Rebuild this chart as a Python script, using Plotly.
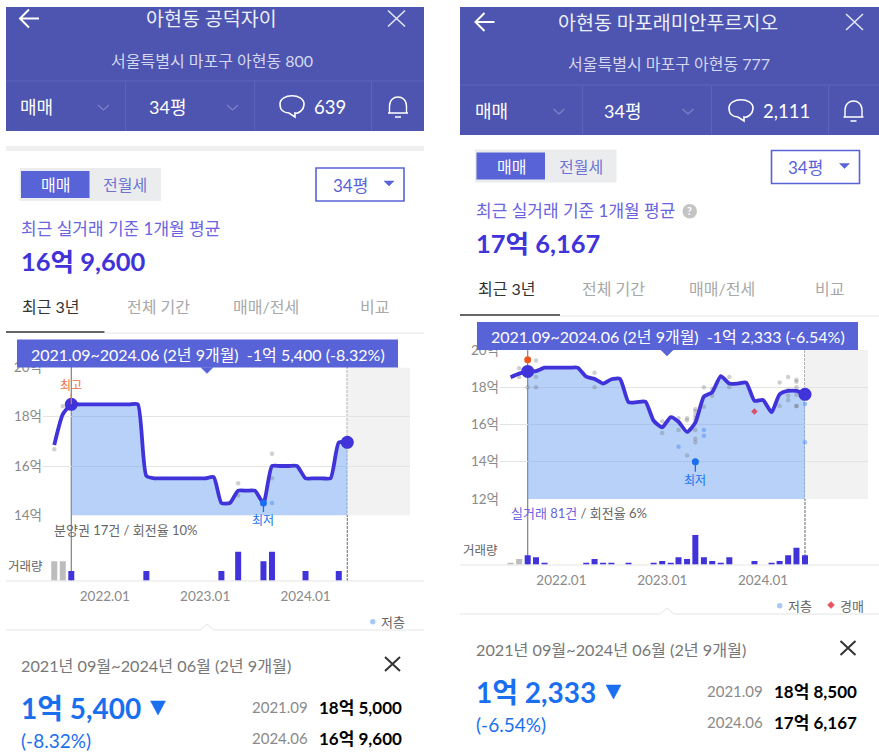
#!/usr/bin/env python3
"""Two apartment price screens side by side: chart panels plus the app chrome around them."""
import pandas as pd
import plotly.graph_objects as go

# ---------- left screen data (억) ----------
MONTHS = list(pd.date_range("2021-07-01", "2024-06-01", freq="MS"))
PRICE_A = [16.85, 18.1, 18.5, 18.5, 18.5, 18.5, 18.5, 18.5, 18.5, 18.5, 18.5, 15.6, 15.5, 15.5,
           15.5, 15.5, 15.5, 15.5, 15.5, 15.55, 14.5, 14.5, 15.0, 15.0, 15.0, 14.5, 16.0, 16.0,
           16.0, 16.0, 15.5, 15.5, 15.5, 15.5, 16.95, 16.96]
VOL_MONTHS_A = ["2021-07-01", "2021-08-01", "2021-09-01", "2022-06-01", "2023-03-01",
                "2023-05-01", "2023-08-01", "2023-09-01", "2024-01-01", "2024-05-01"]
VOL_A = [2, 2, 1, 1, 1, 3, 2, 3, 1, 1]
DOT_MONTHS_A = ["2021-07-01", "2021-08-01", "2023-05-01", "2023-05-01", "2023-09-01", "2023-09-01"]
DOT_VALUES_A = [16.68, 18.42, 15.3, 14.8, 16.5, 15.5]
LOW_MONTHS_A = ["2023-09-01"]
LOW_VALUES_A = [14.5]

# ---------- right screen data (억) ----------
PRICE_B = [18.54, 18.73, 18.85, 18.87, 19.05, 19.05, 19.05, 19.05, 19.05, 18.57, 18.45, 18.2,
           18.43, 18.45, 17.2, 17.2, 17.23, 16.2, 15.85, 16.4, 16.15, 15.6, 16.1, 17.5, 17.73,
           18.6, 18.2, 18.2, 18.25, 17.27, 17.32, 16.66, 17.62, 17.8, 17.8, 17.62]
VOL_MONTHS_B = ["2021-07-01", "2021-08-01", "2021-09-01", "2021-10-01", "2021-11-01", "2022-04-01",
                "2022-05-01", "2022-06-01", "2022-07-01", "2022-09-01", "2022-12-01", "2023-01-01",
                "2023-02-01", "2023-03-01", "2023-04-01", "2023-05-01", "2023-06-01", "2023-07-01",
                "2023-08-01", "2023-09-01", "2023-12-01", "2024-02-01", "2024-03-01", "2024-04-01",
                "2024-05-01", "2024-06-01"]
VOL_B = [1, 3, 5, 4, 1, 1, 3, 1, 1, 1, 1, 2, 1, 4, 3, 16, 4, 2, 1, 4, 2, 1, 2, 5, 9, 5]
DOT_MONTHS_B = ["2021-08-01", "2021-08-01", "2021-10-01", "2021-10-01", "2021-10-01", "2021-09-01",
                "2022-05-01", "2022-05-01", "2023-01-01", "2023-01-01", "2023-03-01", "2023-03-01",
                "2023-04-01", "2023-04-01", "2023-04-01", "2023-05-01", "2023-05-01", "2023-05-01",
                "2023-05-01", "2023-05-01", "2023-05-01", "2023-05-01", "2023-05-01", "2023-06-01",
                "2023-06-01", "2023-07-01", "2023-07-01", "2023-09-01", "2023-09-01", "2024-03-01",
                "2024-03-01", "2024-04-01", "2024-04-01", "2024-04-01", "2024-04-01", "2024-05-01",
                "2024-05-01", "2024-05-01", "2024-05-01", "2024-05-01", "2024-05-01"]
DOT_VALUES_B = [19.02, 18.55, 19.43, 18.55, 18.0, 18.0, 18.78, 18.0, 16.18, 15.54, 16.34, 15.7,
                16.34, 16.23, 14.34, 16.82, 16.7, 16.5, 16.35, 16.2, 15.7, 15.23, 15.05, 18.0,
                16.95, 17.9, 17.55, 18.55, 18.0, 18.25, 17.0, 18.55, 17.85, 17.54, 17.3, 18.4,
                18.3, 18.0, 17.6, 17.0, 17.0]
LOW_MONTHS_B = ["2023-03-01", "2023-06-01", "2023-06-01", "2024-06-01", "2024-06-01"]
LOW_VALUES_B = [14.8, 15.7, 15.4, 17.1, 15.05]
AUCTION_MONTHS = ["2023-12-01"]
AUCTION_VALUES = [16.7]

START, END = "2021-09-01", "2024-06-01"
Y_TICKS_A = [14, 16, 18, 20]
Y_LABELS_A = ["14억", "16억", "18억", "20억"]
Y_TICKS_B = [12, 14, 16, 18, 20]
Y_LABELS_B = ["12억", "14억", "16억", "18억", "20억"]
X_TICKS = ["2022-01-01", "2023-01-01", "2024-01-01"]
X_LABELS = ["2022.01", "2023.01", "2024.01"]

FONT = "Lato, 'Noto Sans CJK KR', sans-serif"
W, H = 879, 754
HEADER = "#4d55b0"
ACCENT = "#5863d8"
LINE = "#3f33d9"
FILL = "rgba(111,163,241,0.5)"
BLUE = "#1a6ff0"
DOT = "rgba(110,110,110,0.32)"
LOW = "rgba(90,150,240,0.55)"


def date_range_for(left_px, right_px, start_px, end_px):
    # x range so that START sits at start_px and END at end_px
    per_day = (end_px - start_px) / (pd.Timestamp(END) - pd.Timestamp(START)).days
    t0 = pd.Timestamp(START)
    return [t0 + pd.Timedelta(days=(left_px - start_px) / per_day),
            t0 + pd.Timedelta(days=(right_px - start_px) / per_day)], per_day


def ydom(top, bottom):
    return [1 - bottom / H, 1 - top / H]


fig = go.Figure()
range_a, per_day_a = date_range_for(43, 410, 71.3, 347.3)
range_b, per_day_b = date_range_for(500, 868, 527.7, 805)

axis_x = dict(type="date", showgrid=False, zeroline=False, showline=False, fixedrange=True, automargin=False)
axis_main_y = dict(showgrid=True, gridcolor="#e4e4e4", gridwidth=1, zeroline=False, showline=False, automargin=False,
                   tickfont=dict(family=FONT, size=13.5, color="#8a8a8a"), ticks="", tickmode="array")
axis_vol_x = dict(axis_x, showticklabels=True, tickmode="array", tickvals=X_TICKS, ticktext=X_LABELS,
                  tickfont=dict(family=FONT, size=13.5, color="#8a8a8a"), ticks="", ticklabelstandoff=6)
axis_vol_y = dict(visible=False, fixedrange=True, automargin=False)

fig.update_layout(
    width=W, height=H, margin=dict(l=0, r=0, t=0, b=0), showlegend=False,
    paper_bgcolor="white", plot_bgcolor="rgba(0,0,0,0)", font=dict(family=FONT),
    xaxis=dict(axis_x, domain=[43 / W, 410 / W], range=range_a, showticklabels=False, anchor="y"),
    yaxis=dict(axis_main_y, domain=ydom(367.4, 515.3), range=[14, 20], tickvals=Y_TICKS_A, ticktext=Y_LABELS_A, anchor="x"),
    xaxis2=dict(axis_vol_x, domain=[43 / W, 410 / W], range=range_a, anchor="y2"),
    yaxis2=dict(axis_vol_y, domain=ydom(551.4, 580.7), range=[0, 3], anchor="x2"),
    xaxis3=dict(axis_x, domain=[500 / W, 868 / W], range=range_b, showticklabels=False, anchor="y3"),
    yaxis3=dict(axis_main_y, domain=ydom(350, 499), range=[12, 20], tickvals=Y_TICKS_B, ticktext=Y_LABELS_B, anchor="x3"),
    xaxis4=dict(axis_vol_x, domain=[500 / W, 868 / W], range=range_b, anchor="y4"),
    yaxis4=dict(axis_vol_y, domain=ydom(534.7, 564.7), range=[0, 16], anchor="x4"),
    # pixel overlay for the app chrome
    xaxis5=dict(visible=False, domain=[0, 1], range=[0, W], fixedrange=True, anchor="y5", automargin=False),
    yaxis5=dict(visible=False, domain=[0, 1], range=[H, 0], fixedrange=True, anchor="x5", automargin=False),
)


def add_panel(months, price, vol_months, vol, dots_x, dots_y, low_x, low_y, xa, ya, xv, yv, per_day):
    in_window = [(m, p) for m, p in zip(months, price) if m >= pd.Timestamp(START)]
    fig.add_trace(go.Scatter(x=[m for m, _ in in_window], y=[p for _, p in in_window], mode="lines",
                             line=dict(color="rgba(0,0,0,0)", width=0, shape="spline", smoothing=0.55),
                             fill="tozeroy", fillcolor=FILL, xaxis=xa, yaxis=ya, hoverinfo="skip"))
    fig.add_trace(go.Scatter(x=dots_x, y=dots_y, mode="markers", marker=dict(color=DOT, size=4.5),
                             xaxis=xa, yaxis=ya, hoverinfo="skip"))
    fig.add_trace(go.Scatter(x=low_x, y=low_y, mode="markers", marker=dict(color=LOW, size=4.5),
                             xaxis=xa, yaxis=ya, hoverinfo="skip"))
    fig.add_trace(go.Scatter(x=months, y=price, mode="lines",
                             line=dict(color=LINE, width=3.8, shape="spline", smoothing=0.55),
                             xaxis=xa, yaxis=ya, hoverinfo="skip"))
    fig.add_trace(go.Scatter(x=[in_window[0][0], in_window[-1][0]], y=[in_window[0][1], in_window[-1][1]],
                             mode="markers", marker=dict(color=LINE, size=13), xaxis=xa, yaxis=ya, hoverinfo="skip"))
    colors = ["#bdbdbd" if pd.Timestamp(m) < pd.Timestamp(START) else LINE for m in vol_months]
    fig.add_trace(go.Bar(x=vol_months, y=vol, marker=dict(color=colors, line_width=0),
                         width=6 / per_day * 86400000, xaxis=xv, yaxis=yv, hoverinfo="skip"))


add_panel(MONTHS, PRICE_A, VOL_MONTHS_A, VOL_A, DOT_MONTHS_A, DOT_VALUES_A, LOW_MONTHS_A, LOW_VALUES_A,
          "x", "y", "x2", "y2", per_day_a)
add_panel(MONTHS, PRICE_B, VOL_MONTHS_B, VOL_B, DOT_MONTHS_B, DOT_VALUES_B, LOW_MONTHS_B, LOW_VALUES_B,
          "x3", "y3", "x4", "y4", per_day_b)

# extreme markers
fig.add_trace(go.Scatter(x=["2023-08-01"], y=[14.5], mode="markers", marker=dict(color=BLUE, size=7),
                         xaxis="x", yaxis="y", hoverinfo="skip"))
fig.add_trace(go.Scatter(x=["2023-05-01"], y=[14.0], mode="markers", marker=dict(color=BLUE, size=7),
                         xaxis="x3", yaxis="y3", hoverinfo="skip"))
fig.add_trace(go.Scatter(x=["2021-09-01"], y=[19.48], mode="markers", marker=dict(color="#f0561e", size=7),
                         xaxis="x3", yaxis="y3", hoverinfo="skip"))
fig.add_trace(go.Scatter(x=AUCTION_MONTHS, y=AUCTION_VALUES, mode="markers",
                         marker=dict(color="#d9506a", size=5, symbol="diamond"),
                         xaxis="x3", yaxis="y3", hoverinfo="skip"))


def ann_marker(text, x, y, xa, ya, color, ay):
    fig.add_annotation(x=x, y=y, xref=xa, yref=ya, text=text, showarrow=True, arrowhead=0, arrowwidth=1.3,
                       arrowcolor=color, ax=0, ay=ay, font=dict(family=FONT, size=12, color=color))


ann_marker("최고", "2021-09-01", 18.5, "x", "y", "#f0703c", -19)
ann_marker("최저", "2023-08-01", 14.5, "x", "y", BLUE, 18)
ann_marker("최저", "2023-05-01", 14.0, "x3", "y3", BLUE, 19)

# grey future zones and range bounds
for xa, ya in (("x", "y"), ("x3", "y3")):
    fig.add_shape(type="rect", xref=xa, yref=ya, x0=END, x1="2025-06-01", y0=0, y1=20,
                  fillcolor="#f2f2f2", line_width=0, layer="below")
for xa, top, bottom in (("x", 367, 581), ("x3", 350, 565)):
    for when, dash in ((START, "solid"), (END, "3px,1px")):
        fig.add_shape(type="line", xref=xa, yref="paper", x0=when, x1=when, y0=1 - bottom / H, y1=1 - top / H,
                      line=dict(color="#808080", width=1.2, dash=dash), layer="below")


# ---------- chrome helpers, all in page pixels ----------
def rect(x0, y0, x1, y1, fill, line=None, lw=0):
    fig.add_shape(type="rect", xref="x5", yref="y5", x0=x0, y0=y0, x1=x1, y1=y1, fillcolor=fill,
                  line=dict(color=line or fill, width=lw), layer="above")


def path(d, color="white", width=1.6, fill=None):
    fig.add_shape(type="path", xref="x5", yref="y5", path=d, line=dict(color=color, width=width),
                  fillcolor=fill or "rgba(0,0,0,0)", layer="above")


def label(text, x, y, size, color, anchor="left", bold=False):
    fig.add_annotation(xref="x5", yref="y5", x=x, y=y, text=text, showarrow=False, xanchor=anchor, yanchor="middle",
                       xshift=-2.5 if anchor == "left" else 0,
                       font=dict(family=FONT, size=size, color=color, weight="bold" if bold else "normal"))


def cross(x0, y0, x1, y1, color, width):
    path(f"M {x0} {y0} L {x1} {y1} M {x1} {y0} L {x0} {y1}", color, width)


def chevron(x, y):
    path(f"M {x} {y} L {x + 5.5} {y + 5} L {x + 11} {y}", "#7d84c8", 1.2)


def caret(x, y):
    path(f"M {x} {y} L {x + 10} {y} L {x + 5} {y + 5} Z", ACCENT, 0.5, ACCENT)


def bubble(x, y):
    path(f"M {x} {y} C {x} {y - 11} {x + 24} {y - 11} {x + 24} {y} C {x + 24} {y + 7} {x + 17} {y + 10} {x + 15} {y + 9} "
         f"L {x + 15} {y + 13} L {x + 9} {y + 9} C {x + 4} {y + 9} {x} {y + 6} {x} {y}", "white", 1.6)


def bell(x, y):
    path(f"M {x - 10} {y + 7} L {x + 10} {y + 7} M {x - 8.5} {y + 7} L {x - 8.5} {y} C {x - 8.5} {y - 12} {x + 8.5} {y - 12} "
         f"{x + 8.5} {y} L {x + 8.5} {y + 7} M {x - 3} {y + 11} L {x + 3} {y + 11}", "white", 1.4)


def screen(dx, s):
    """One phone screen: s holds the page positions that differ between both crops."""
    x0, x1 = s["x0"], s["x1"]
    rect(x0, 7, x1, s["head_bottom"], HEADER)
    path(f"M {dx + 39} {s['title_y']} L {dx + 20} {s['title_y']} M {dx + 29} {s['title_y'] - 9} L {dx + 20} {s['title_y']} "
         f"L {dx + 29} {s['title_y'] + 9}", "white", 2)
    cross(s["x_icon"], s["title_y"] - 8, s["x_icon"] + 17, s["title_y"] + 8, "#e4e5f5", 1.6)
    label(s["title"], s["title_x"], s["title_y"], 19.5, "#eceef9", "center")
    label(s["address"], s["title_x"] + 1, s["addr_y"], 16, "#d5d7ef", "center")
    sep = s["sep_y"]
    row = s["row_y"]
    path(f"M {x0} {sep} L {x1} {sep}", "#5c64ba", 1)
    for vx in s["verts"]:
        path(f"M {vx} {sep} L {vx} {s['head_bottom']}", "#5c64ba", 1)
    label("매매", dx + 20, row, 18, "white")
    chevron(dx + 98, row - 2)
    label("34평", dx + 149, row, 18, "white")
    chevron(dx + 227, row - 2)
    bubble(s["bubble_x"], row - 3)
    label(s["comments"], s["bubble_x"] + 34, row, 18.5, "white")
    bell(dx + 398, row - 1)

    ty = s["toggle_y"]
    rect(dx + 19.5, ty, dx + 161, ty + 33, "#ebecee")
    rect(dx + 21, ty + 3, dx + 89.5, ty + 30, ACCENT)
    label("매매", dx + 55.5, ty + 16.5, 16, "white", "center")
    label("전월세", dx + 125, ty + 16.5, 16, "#6f74d4", "center")
    rect(dx + 316, ty + s["drop_dy"], dx + 404, ty + s["drop_dy"] + 33, "white", ACCENT, 1.6)
    label("34평", dx + 350, ty + s["drop_dy"] + 17, 17, ACCENT, "center")
    caret(dx + 384, ty + s["drop_dy"] + 13)
    label("최근 실거래 기준 1개월 평균", dx + 21, s["avg_y"], 17, "#6a63e0")
    label(s["avg"], dx + 21, s["price_y"], 25.5, LINE, bold=True)

    tab = s["tab_y"]
    label("최근 3년", dx + 51, tab, 16, "#333333", "center")
    for name, cx in (("전체 기간", 158), ("매매/전세", 266), ("비교", 374)):
        label(name, dx + cx, tab, 16, "#a8a8a8", "center")
    path(f"M {x0} {s['under_y']} L {dx + 104.5} {s['under_y']}", "#333333", 1.6)
    path(f"M {dx + 104.5} {s['under_y'] + 1} L {x1} {s['under_y'] + 1}", "#e6e6e6", 1)

    # tooltip band over the chart
    ty2 = s["band_y"]
    rect(s["band_x0"], ty2, s["band_x0"] + 381, ty2 + 28, ACCENT)
    nx = s["band_x0"] + 190
    path(f"M {nx - 6} {ty2 + 28} L {nx + 6} {ty2 + 28} L {nx} {ty2 + 34} Z", ACCENT, 0.5, ACCENT)
    label(s["band"], s["band_x0"] + 190.5, ty2 + 14.5, 16, "white", "center")

    base = s["base_y"]
    path(f"M {x0} {base} L {x1} {base}", "#e6e6e6", 1.2)
    label("거래량", dx + 8, base - 15, 12.5, "#666666")

    lin = s["foot_y"]
    path(f"M {x0} {lin} L {s['notch'] - 7} {lin} L {s['notch']} {lin - 6} L {s['notch'] + 7} {lin} L {x1} {lin}", "#e4e4e4", 1)
    label("2021년 09월~2024년 06월 (2년 9개월)", dx + 21, lin + 35.5, 16.2, "#777777")
    cross(dx + 385, lin + 27, dx + 400, lin + 41, "#333333", 2)
    label(s["delta"], dx + 21, lin + 78, 28, BLUE, bold=True)
    tx = dx + 150.5
    path(f"M {tx} {lin + 71} L {tx + 15} {lin + 71} L {tx + 7.5} {lin + 85} Z", BLUE, 0.5, BLUE)
    label(s["pct"], dx + 21, lin + 110.5, 19, BLUE)
    label("2021.09", dx + 252, lin + 77, 15, "#8a8a8a")
    label(s["from"], dx + 319, lin + 77, 17, "black", bold=True)
    label("2024.06", dx + 252, lin + 108, 15, "#8a8a8a")
    label(s["to"], dx + 319, lin + 108, 17, "black", bold=True)


screen(0, dict(x0=6, x1=424, head_bottom=131, title="아현동 공덕자이", title_x=211, title_y=18.5, x_icon=388,
               address="서울특별시 마포구 아현동 800", addr_y=60, sep_y=81, row_y=107, verts=[125.6, 254.6, 371.6],
               bubble_x=280, comments="639", toggle_y=168, drop_dy=0, avg_y=228.5, avg="16억 9,600", price_y=261,
               tab_y=306, under_y=332, band_x0=17, band_y=339.5, band="2021.09~2024.06 (2년 9개월)  -1억 5,400 (-8.32%)",
               base_y=581, foot_y=630, notch=207, delta="1억 5,400", pct="(-8.32%)", **{"from": "18억 5,000", "to": "16억 9,600"}))
screen(455.5, dict(x0=460, x1=879, head_bottom=135, title="아현동 마포래미안푸르지오", title_x=668, title_y=22, x_icon=846,
                   address="서울특별시 마포구 아현동 777", addr_y=63.5, sep_y=85, row_y=111, verts=[582.5, 711.5, 828.5],
                   bubble_x=729, comments="2,111", toggle_y=149.5, drop_dy=1, avg_y=210, avg="17억 6,167", price_y=243,
                   tab_y=288.5, under_y=315, band_x0=477, band_y=322, band="2021.09~2024.06 (2년 9개월)  -1억 2,333 (-6.54%)",
                   base_y=565, foot_y=614, notch=667, delta="1억 2,333", pct="(-6.54%)", **{"from": "18억 8,500", "to": "17억 6,167"}))

# bits only one of the two screens has
rect(6, 146, 424, 151, "#f0f0f0")
label("분양권 17건 / 회전율 10%", 54, 529.5, 13, "#666666")
label("저층", 381, 621.5, 13, "#666666")
fig.add_shape(type="circle", xref="x5", yref="y5", x0=370, y0=619, x1=375.5, y1=624.5, fillcolor="#a9c9f5", line_width=0, layer="above")

fig.add_shape(type="circle", xref="x5", yref="y5", x0=682.5, y0=204, x1=697, y1=218.5, fillcolor="#c4c4c4", line_width=0, layer="above")
label("?", 689.7, 211.2, 10.5, "white", "center", True)
label("<span style='color:#6a63e0'>실거래 81건</span> / 회전율 6%", 511, 513, 13, "#666666")
label("저층", 788, 605.5, 13, "#666666")
fig.add_shape(type="circle", xref="x5", yref="y5", x0=777, y0=603, x1=782.5, y1=608.5, fillcolor="#a9c9f5", line_width=0, layer="above")
label("경매", 840, 605.5, 13, "#666666")
path("M 831 601.5 L 834.5 605 L 831 608.5 L 827.5 605 Z", "#e8555f", 0.5, "#e8555f")

# the overlay axes only resolve once a trace uses them
fig.add_trace(go.Scatter(x=[0], y=[0], mode="markers", marker=dict(opacity=0), xaxis="x5", yaxis="y5", hoverinfo="skip"))

fig.write_html("out.html", config={"displayModeBar": False},
               post_script="document.body.style.margin='0';")
